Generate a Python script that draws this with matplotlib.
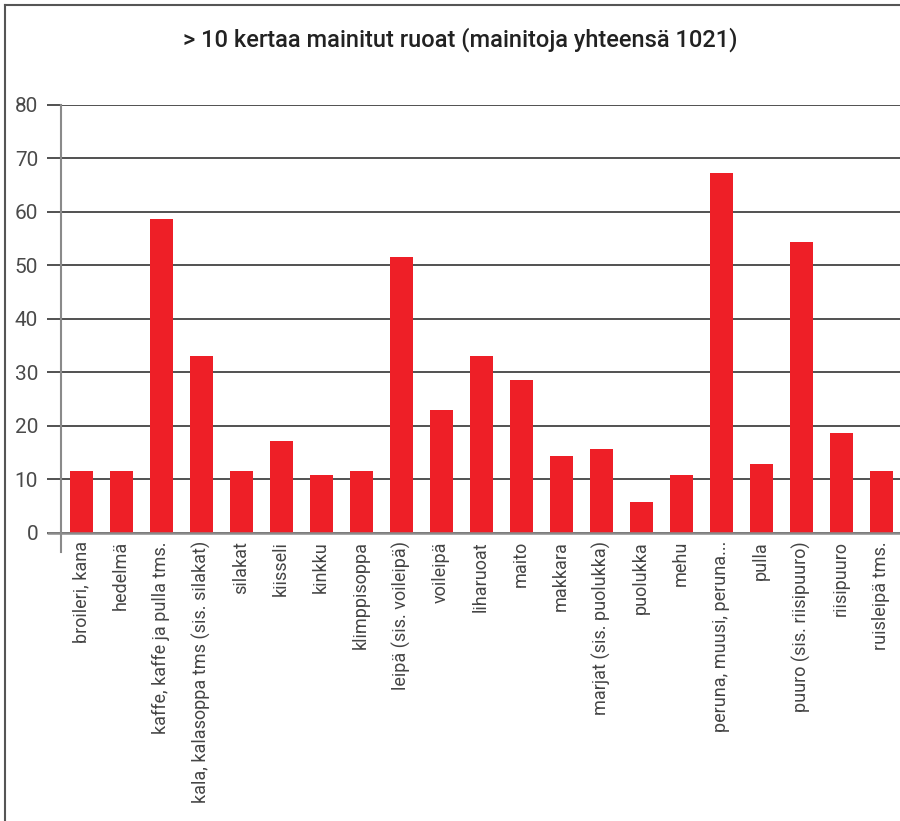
import matplotlib
matplotlib.use("Agg")
import matplotlib.pyplot as plt
from matplotlib.lines import Line2D

plt.rcParams['font.family'] = ['Roboto', 'DejaVu Sans']

# Data
foods = ['broileri, kana', 'hedelmä', 'kaffe, kaffe ja pulla tms.',
         'kala, kalasoppa tms (sis. silakat)', 'silakat', 'kiisseli', 'kinkku',
         'klimppisoppa', 'leipä (sis. voileipä)', 'voileipä', 'liharuoat', 'maito',
         'makkara', 'marjat (sis. puolukka)', 'puolukka', 'mehu',
         'peruna, muusi, peruna...', 'pulla', 'puuro (sis. riisipuuro)',
         'riisipuuro', 'ruisleipä tms.']
mentions = [11.5, 11.5, 58.7, 33.0, 11.5, 17.1, 10.8, 11.5, 51.6, 23.0, 33.0,
            28.6, 14.3, 15.6, 5.7, 10.8, 67.3, 12.8, 54.4, 18.6, 11.5]
yticks = [0, 10, 20, 30, 40, 50, 60, 70, 80]
title = '> 10 kertaa mainitut ruoat (mainitoja yhteensä 1021)'

RED = '#ee1f27'
GRID = '#333333'
GRAY = '#8a8a8a'

fig = plt.figure(figsize=(9, 8.21), dpi=100)
ax = fig.add_axes([61 / 900, 1 - 532.7 / 821, 840 / 900, (532.7 - 105) / 821])

x = list(range(len(foods)))
ax.bar(x, mentions, width=0.575, color=RED, zorder=3)

ax.set_xlim(-0.5, len(foods) - 0.5)
ax.set_ylim(0, 80)
ax.set_yticks(yticks)
ax.set_xticks(x)
ax.set_xticklabels(foods, rotation=90, fontsize=13, color='#444444',
                   va='top', ha='center')
ax.tick_params(axis='x', length=0, pad=6)
ax.tick_params(axis='y', direction='out', length=10, width=1.2, color=GRID,
               pad=6.5, labelsize=15, labelcolor='#4a4a4a')

ax.yaxis.grid(True, color=GRID, linewidth=1.2, zorder=1)
ax.set_axisbelow(True)

for s in ['top', 'right']:
    ax.spines[s].set_visible(False)
ax.spines['bottom'].set_color(GRAY)
ax.spines['bottom'].set_linewidth(1.8)
ax.spines['bottom'].set_zorder(4)
ax.spines['left'].set_color(GRAY)
ax.spines['left'].set_linewidth(1.5)
ax.spines['left'].set_bounds(-3.7, 80)

# extend zero line to the left like the ticks
ax.plot([-0.5 - 14 / 40, -0.5], [0, 0], color=GRAY, linewidth=1.8,
        clip_on=False, zorder=4, solid_capstyle='butt')

fig.text(460 / 900, 1 - 40 / 821, title, ha='center', va='center',
         fontsize=17, fontweight='medium', color='#222222')

# frame around figure (top and left edges)
fig.add_artist(Line2D([5 / 900, 1], [1 - 5 / 821, 1 - 5 / 821],
                      transform=fig.transFigure, color='#555555', linewidth=1.5))
fig.add_artist(Line2D([5 / 900, 5 / 900], [0, 1 - 5 / 821],
                      transform=fig.transFigure, color='#555555', linewidth=1.5))

fig.savefig('out.png', dpi=100)
